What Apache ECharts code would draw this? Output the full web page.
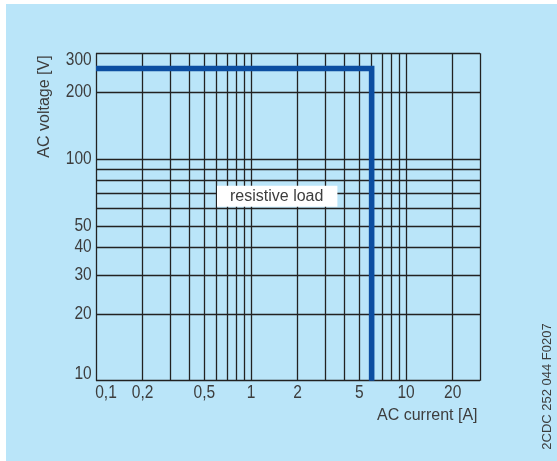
<!DOCTYPE html>
<html><head><meta charset="utf-8">
<script src="https://cdn.jsdelivr.net/npm/echarts@6/dist/echarts.min.js"></script>
<style>html,body{margin:0;padding:0;background:#fff}#c{width:557px;height:461px}</style>
</head><body><div id="c"></div>
<script>
// ---- data ----
const xGridValues = [0.1,0.2,0.3,0.4,0.5,0.6,0.7,0.8,0.9,1,2,3,4,5,6,7,8,9,10,20,30];
const yGridValues = [10,20,30,40,50,60,70,80,90,100,200,300];
const xTickValues = [0.1,0.2,0.5,1,2,5,10,20];
const xTickLabels = ['0,1','0,2','0,5','1','2','5','10','20'];
const yTickValues = [10,20,30,40,50,100,200,300];
const yTickLabels = ['10','20','30','40','50','100','200','300'];
const limitCurrent = [0.1, 6, 6];
const limitVoltage = [256, 256, 10];

const X_MIN = 0.1, X_MAX = 30, Y_MIN = 10, Y_MAX = 300;
const FONT = '"Liberation Sans", Arial, Helvetica, sans-serif';
const TXT = '#3d3d3d';
const TICK_FONT = '18.5px ' + FONT;
const TICK_SX = 0.84;

const chart = echarts.init(document.getElementById('c'), null, {renderer: 'canvas'});

const baseGraphic = [
  {id: 'bg', type: 'rect', z: -10, silent: true, shape: {x: 6, y: 4, width: 557, height: 461}, style: {fill: '#bae5f9'}},
  {id: 'ytitle', type: 'text', silent: true, x: 44.5, y: 106.5, rotation: Math.PI / 2,
    style: {text: 'AC voltage [V]', font: '16px ' + FONT, fill: TXT, align: 'center', verticalAlign: 'middle'}},
  {id: 'xtitle', type: 'text', silent: true, x: 477.5, y: 415.5,
    style: {text: 'AC current [A]', font: '16px ' + FONT, fill: TXT, align: 'right', verticalAlign: 'middle'}},
  {id: 'code', type: 'text', silent: true, x: 547.5, y: 386.5, rotation: Math.PI / 2,
    style: {text: '2CDC 252 044 F0207', font: '13px ' + FONT, fill: TXT, align: 'center', verticalAlign: 'middle'}},
  {id: 'note', type: 'text', silent: true, z: 100, x: 277.2, y: 196.2,
    style: {text: 'resistive load', font: '16px ' + FONT, fill: TXT, align: 'center', verticalAlign: 'middle',
      backgroundColor: '#ffffff', padding: [3, 14, 2, 13]}}
];

const option = {
  animation: false,
  backgroundColor: '#ffffff',
  grid: {left: 96, right: 77, top: 53.3, bottom: 80.3, containLabel: false},
  xAxis: {
    type: 'log', logBase: 10, min: X_MIN, max: X_MAX,
    axisLine: {show: false}, axisTick: {show: false}, axisLabel: {show: false}, splitLine: {show: false}
  },
  yAxis: {
    type: 'log', logBase: 10, min: Y_MIN, max: Y_MAX,
    axisLine: {show: false}, axisTick: {show: false}, axisLabel: {show: false}, splitLine: {show: false}
  },
  graphic: baseGraphic,
  series: [
    {
      type: 'line', name: 'grid', data: [], silent: true,
      markLine: {
        silent: true, symbol: 'none', animation: false,
        label: {show: false},
        lineStyle: {color: '#222222', width: 1.3, type: 'solid'},
        emphasis: {disabled: true},
        data: xGridValues.map(v => ({xAxis: v})).concat(yGridValues.map(v => ({yAxis: v})))
      }
    },
    {
      type: 'line', name: 'resistive load',
      data: limitCurrent.map((c, i) => [c, limitVoltage[i]]),
      showSymbol: false, symbol: 'none', clip: false, z: 5,
      lineStyle: {color: '#0c4ea1', width: 5.6, join: 'miter', cap: 'butt'}
    }
  ]
};
chart.setOption(option);

// tick labels placed through the axes' own scales
const tickGraphic = [];
xTickValues.forEach((v, i) => {
  const p = chart.convertToPixel({gridIndex: 0}, [v, Y_MIN]);
  tickGraphic.push({
    id: 'xt' + i, type: 'text', silent: true,
    x: p[0] + (v === X_MIN ? 10 : 0), y: p[1] + 12.6, scaleX: TICK_SX,
    style: {text: xTickLabels[i], font: TICK_FONT, fill: TXT, align: 'center', verticalAlign: 'middle'}
  });
});
yTickValues.forEach((v, i) => {
  const p = chart.convertToPixel({gridIndex: 0}, [X_MIN, v]);
  tickGraphic.push({
    id: 'yt' + i, type: 'text', silent: true,
    x: p[0] - 4.3, y: p[1] + (v === Y_MAX ? 6.7 : (v === Y_MIN ? -6.7 : 0)), scaleX: TICK_SX,
    style: {text: yTickLabels[i], font: TICK_FONT, fill: TXT, align: 'right', verticalAlign: 'middle'}
  });
});
chart.setOption({graphic: baseGraphic.concat(tickGraphic)});
</script>
</body></html>
